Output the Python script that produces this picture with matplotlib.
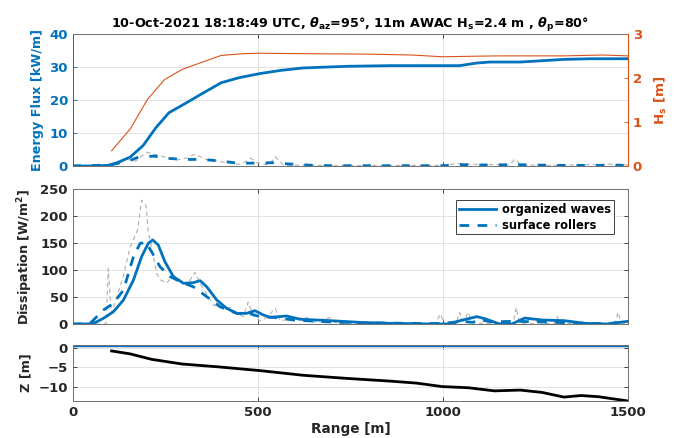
import numpy as np
import matplotlib.pyplot as plt
from matplotlib.lines import Line2D

# colours (MATLAB defaults)
BLUE = '#0072BD'
ORANGE = '#D95319'
TXT = '#262626'
GRID = '#e3e3e3'

# ---- top panel: energy flux [kW/m] ----
flux_x = [0, 60, 96, 120, 155, 190, 225, 260, 307, 354, 401, 448, 506, 565, 623,
          741, 858, 1045, 1092, 1127, 1209, 1268, 1327, 1400, 1500]
flux_y = [0, 0, 0.2, 1.0, 2.7, 6.2, 11.7, 16.2, 19.2, 22.3, 25.3, 26.8, 28.1, 29.1, 29.8,
          30.3, 30.5, 30.5, 31.3, 31.6, 31.6, 32.0, 32.4, 32.6, 32.6]

roll_flux_x = [0, 100, 150, 180, 220, 260, 300, 350, 400, 450, 500, 540, 600, 650, 700,
               1000, 1050, 1100, 1200, 1300, 1500]
roll_flux_y = [0, 0.3, 1.5, 2.8, 3.0, 2.3, 2.0, 2.0, 1.5, 0.8, 0.9, 1.0, 0.5, 0.2, 0.1,
               0.1, 0.4, 0.3, 0.4, 0.2, 0.2]

raw_flux_x = [0, 120, 146, 170, 200, 240, 280, 310, 330, 360, 400, 450, 470, 480, 500,
              530, 547, 570, 620, 700, 1000, 1050, 1080, 1180, 1195, 1210, 1300, 1480, 1500]
raw_flux_y = [0, 0.5, 2.0, 1.5, 4.2, 3.0, 1.8, 2.5, 3.6, 2.0, 1.3, 0.5, 1.5, 2.4, 0.8,
              0.3, 2.8, 0.2, 0.3, 0.1, 0.2, 0.8, 0.5, 0.4, 2.1, 0.3, 0.2, 0.6, 0.2]

hs_x = [105, 155, 202, 248, 295, 354, 401, 460, 506, 623, 799, 916, 998, 1069, 1151,
        1327, 1432, 1500]
hs_y = [0.35, 0.84, 1.52, 1.97, 2.20, 2.38, 2.52, 2.56, 2.57, 2.56, 2.55, 2.53, 2.49,
        2.50, 2.51, 2.51, 2.53, 2.51]

# ---- middle panel: dissipation [W/m^2] ----
org_x = [0, 40, 56, 83, 110, 137, 164, 186, 204, 216, 231, 249, 272, 299, 326, 344,
         362, 389, 416, 443, 470, 492, 515, 533, 578, 614, 685, 776, 858, 975, 1022,
         1045, 1092, 1116, 1151, 1186, 1221, 1268, 1327, 1385, 1444, 1500]
org_y = [0, 0, 1, 10.6, 22.9, 44.5, 81.7, 125, 149.7, 156, 146.6, 115.6, 87.8, 75.5,
         76.7, 80.4, 69, 44.5, 29, 19.8, 19.8, 24.7, 16.7, 12.4, 14.8, 8.7, 6.6, 3.0,
         1.2, 0, 0, 6, 13.6, 9.3, 0.5, 0, 11, 7.4, 6.2, 1.2, 0, 5]

rol_x = [0, 45, 56, 83, 110, 137, 164, 182, 198, 213, 236, 263, 290, 326, 362, 398,
         443, 479, 506, 542, 596, 686, 800, 950, 1000, 1050, 1080, 1100, 1130, 1200,
         1250, 1300, 1400, 1450, 1500]
rol_y = [0, 0, 7.4, 26, 38.4, 63, 125, 149.7, 151.5, 134, 106, 88, 78.6, 69, 50.7, 32,
         19.8, 19, 13.6, 12.4, 7.4, 4, 2, 1, 1, 5, 3, 8, 4, 5, 4, 3, 1, 1, 4]

raw_x = [0, 90, 96, 100, 105, 137, 155, 175, 186, 198, 204, 213, 227, 236, 254, 272,
         290, 308, 330, 344, 362, 380, 407, 425, 443, 461, 474, 488, 506, 524, 547,
         560, 587, 632, 650, 695, 713, 980, 993, 1005, 1035, 1045, 1055, 1069, 1080,
         1190, 1198, 1206, 1250, 1256, 1265, 1300, 1309, 1318, 1465, 1473, 1482, 1500]
raw_y = [0, 0, 103, 60, 20, 90, 143, 174, 230, 220, 170, 143, 94, 82, 76, 90, 82, 72,
         96, 75, 56, 35, 29, 31, 20, 14, 41, 15, 6, 12, 29, 6, 9, 12, 3, 12, 1, 0, 18.6,
         0, 0, 21.7, 5, 21.7, 2, 0, 31, 2, 0, 12, 2, 0, 13.6, 1, 0, 21.7, 2, 0]

# ---- bottom panel: bathymetry ----
z_x = [105, 155, 213, 295, 389, 506, 623, 741, 858, 928, 998, 1069, 1139, 1209, 1268,
       1327, 1373, 1420, 1500]
z_y = [-0.85, -1.6, -3.0, -4.2, -4.9, -5.9, -7.1, -7.9, -8.6, -9.1, -10.0, -10.3,
       -11.1, -10.9, -11.5, -12.7, -12.3, -12.6, -13.7]
water_level = 0.6

title = (r'10-Oct-2021 18:18:49 UTC, $\theta_{\mathbf{az}}$=95°, 11m AWAC '
         r'H$_{\mathbf{s}}$=2.4 m , $\theta_{\mathbf{p}}$=80°')

plt.rcParams['font.family'] = ['DejaVu Sans']
plt.rcParams['font.weight'] = 'bold'
plt.rcParams['axes.labelweight'] = 'bold'
plt.rcParams['mathtext.fontset'] = 'dejavusans'
plt.rcParams['font.size'] = 9.5

YLAB = 9.2


def style(ax, xlabels=False):
    ax.set_xlim(0, 1500)
    ax.set_xticks([0, 500, 1000, 1500])
    ax.grid(True, color=GRID, lw=0.7)
    ax.set_axisbelow(True)
    ax.tick_params(direction='in', top=True, right=True, length=3, colors=TXT,
                   labelsize=9.5, width=0.6)
    if not xlabels:
        ax.tick_params(labelbottom=False)
    for s in ax.spines.values():
        s.set_color('#707070')
        s.set_linewidth(0.7)


fig = plt.figure(figsize=(6.8, 4.38), dpi=100)
L, W = 0.107, 0.8165
ax1 = fig.add_axes([L, 0.621, W, 0.3005])
ax2 = fig.add_axes([L, 0.2603, W, 0.3075])
ax3 = fig.add_axes([L, 0.0845, W, 0.128])

# top
style(ax1)
ax1.plot(raw_flux_x, raw_flux_y, '--', color='#b0b0b0', lw=0.8, dashes=(4, 3))
ax1.plot(roll_flux_x, roll_flux_y, '--', color=BLUE, lw=2.0, dashes=(3, 4))
ax1.plot(flux_x, flux_y, color=BLUE, lw=2.0)
ax1.set_ylim(0, 40)
ax1.set_yticks([0, 10, 20, 30, 40])
ax1.set_ylabel('Energy Flux [kW/m]', color=BLUE, fontsize=YLAB, labelpad=4)
ax1.tick_params(axis='y', colors=BLUE, right=False)
ax1.spines['left'].set_color(BLUE)
ax1.spines['right'].set_visible(False)
ax1.set_title(title, fontsize=9.2, color='black', fontweight='bold', pad=5)

ax1r = ax1.twinx()
ax1r.plot(hs_x, hs_y, color=ORANGE, lw=0.8)
ax1r.set_ylim(0, 3)
ax1r.set_yticks([0, 1, 2, 3])
ax1r.tick_params(direction='in', colors=ORANGE, length=3, labelsize=9.5, width=0.6)
for s in ['top', 'bottom', 'left']:
    ax1r.spines[s].set_visible(False)
ax1r.spines['right'].set_color(ORANGE)
ax1r.set_ylabel('H$_{\\mathbf{s}}$ [m]', color=ORANGE, fontsize=YLAB + 0.5, labelpad=8)

# middle
style(ax2)
ax2.plot(raw_x, raw_y, '--', color='#b0b0b0', lw=0.8, dashes=(4, 3))
ax2.plot(rol_x, rol_y, '--', color=BLUE, lw=2.0, dashes=(3.5, 3))
ax2.plot(org_x, org_y, color=BLUE, lw=2.0)
ax2.set_ylim(0, 250)
ax2.set_yticks([0, 50, 100, 150, 200, 250])
ax2.set_ylabel('Dissipation [W/m$^{\\mathbf{2}}$]', color=TXT, fontsize=YLAB, labelpad=4)
handles = [Line2D([], [], color=BLUE, lw=2.0),
           Line2D([], [], color=BLUE, lw=2.0, ls='--', dashes=(3.5, 3))]
leg = ax2.legend(handles, ['organized waves', 'surface rollers'], loc='upper right',
                 bbox_to_anchor=(0.985, 0.965), fontsize=8.3, fancybox=False,
                 framealpha=1, edgecolor='#404040', handlelength=3.2,
                 borderpad=0.25, labelspacing=0.25, handletextpad=0.5)
leg.get_frame().set_linewidth(0.7)

# bottom
style(ax3, xlabels=True)
ax3.axhline(water_level, color=BLUE, lw=2.5)
ax3.plot(z_x, z_y, color='black', lw=2.0)
ax3.set_ylim(-13.7, 0.7)
ax3.set_yticks([-10, -5, 0])
ax3.set_ylabel('Z [m]', color=TXT, fontsize=YLAB, labelpad=4)
ax3.set_xlabel('Range [m]', color=TXT, fontsize=9.8, labelpad=2)

fig.savefig('out.png', dpi=100)
